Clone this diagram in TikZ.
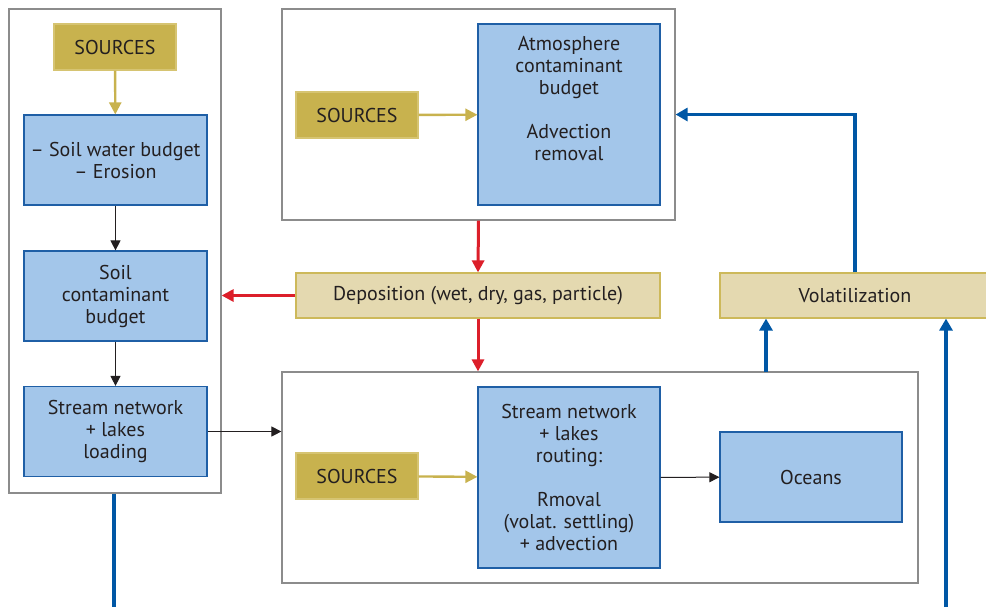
\documentclass[tikz,border=0pt]{standalone}
\usepackage{fontspec}
\setmainfont{PT Sans}
\usetikzlibrary{arrows.meta,positioning}
\definecolor{Gold}{HTML}{C8B24E}
\definecolor{GoldLine}{HTML}{D6C472}
\definecolor{SkyFill}{HTML}{A3C6EA}
\definecolor{SkyLine}{HTML}{1F5FA6}
\definecolor{Sand}{HTML}{E4D9B0}
\definecolor{SandLine}{HTML}{CDB95A}
\definecolor{FluxRed}{HTML}{DC1F2A}
\definecolor{FluxBlue}{HTML}{0057A5}
\definecolor{Frame}{HTML}{8C8C8C}
\definecolor{Ink}{HTML}{231F20}
\begin{document}
\begin{tikzpicture}[x=0.5pt,y=-0.5pt,font=\fontsize{10}{11}\selectfont,text=Ink,
    frame/.style={draw=Frame,line width=0.6pt,inner sep=0pt},
    srcbox/.style={draw=GoldLine,fill=Gold,line width=0.6pt,inner sep=0pt,
      minimum width=61pt,minimum height=23pt},
    procbox/.style={draw=SkyLine,fill=SkyFill,line width=0.6pt,inner sep=0pt,
      align=center,minimum width=91.5pt},
    fluxbox/.style={draw=SandLine,fill=Sand,line width=0.6pt,inner sep=0pt,
      minimum height=22.5pt},
    feed/.style={-{Triangle[length=6pt,width=6pt]},color=Gold,line width=1.2pt},
    pass/.style={-{Triangle[length=5pt,width=5pt]},color=Ink,line width=0.5pt},
    depo/.style={-{Triangle[length=6pt,width=6pt]},color=FluxRed,line width=1.5pt},
    vola/.style={-{Triangle[length=6pt,width=6.5pt]},color=FluxBlue,line width=1.6pt}]
  \useasboundingbox (0,0) rectangle (986,607);
  % frames
  \node[frame,minimum width=106pt,minimum height=242pt] (landbox) at (115,251) {};
  \node[frame,minimum width=196.5pt,minimum height=105.5pt] (airbox) at (478.5,114.5) {};
  \node[frame,minimum width=318pt,minimum height=105.5pt] (waterbox) at (600,477.5) {};
  % land column
  \node[srcbox] (srcL) at (115,47) {SOURCES};
  \node[procbox,minimum height=45pt] (soilw) at (115.5,160)
    {-- Soil water budget\\-- Erosion};
  \node[procbox,minimum height=45pt] (soilc) at (115.5,296)
    {Soil\\contaminant\\budget};
  \node[procbox,minimum height=45pt] (loadL) at (115.5,431.5)
    {Stream network\\+ lakes\\loading};
  % atmosphere
  \node[srcbox] (srcA) at (357,115) {SOURCES};
  \node[procbox,minimum width=91pt,minimum height=90.5pt] (atmo) at (569,114.5)
    {Atmosphere\\contaminant\\budget\\[11pt]Advection\\removal\\[5pt]\mbox{}};
  % fluxes
  \node[fluxbox,minimum width=182pt] (depo) at (478,295.5)
    {Deposition (wet, dry, gas, particle)};
  \node[fluxbox,minimum width=135pt] (volat) at (855,295.5) {Volatilization};
  % water
  \node[srcbox] (srcW) at (357,476) {SOURCES};
  \node[procbox,minimum width=91pt,minimum height=90.5pt] (route) at (569,477.5)
    {Stream network\\+ lakes\\routing:\\[11pt]Rmoval\\(volat. settling)\\+ advection};
  \node[procbox,minimum width=91pt,minimum height=45pt] (oceans) at (811,477)
    {Oceans};
  \coordinate (wvol) at (766,372);
  \coordinate (soilend) at (946,607);
  \coordinate (landend) at (114,607);
  % connectors
  \draw[feed] (srcL) -- (soilw);
  \draw[pass] (soilw) -- (soilc);
  \draw[pass] (soilc) -- (loadL);
  \draw[pass] (loadL.east) -- (loadL.east -| waterbox.west);
  \draw[feed] (srcA) -- (atmo);
  \draw[feed] (srcW) -- (route);
  \draw[pass] (route) -- (oceans);
  \draw[depo] (airbox.south) -- (depo.north);
  \draw[depo] (depo.west) -- (depo.west -| landbox.east);
  \draw[depo] (depo.south) -- (depo.south |- waterbox.north);
  \draw[vola] (volat.north) |- (airbox.east);
  \draw[vola] (wvol) -- (wvol |- volat.south);
  \draw[vola] (soilend) -- (soilend |- volat.south);
  \draw[color=FluxBlue,line width=1.6pt] (landbox.south -| landend) -- (landend);
\end{tikzpicture}
\end{document}
